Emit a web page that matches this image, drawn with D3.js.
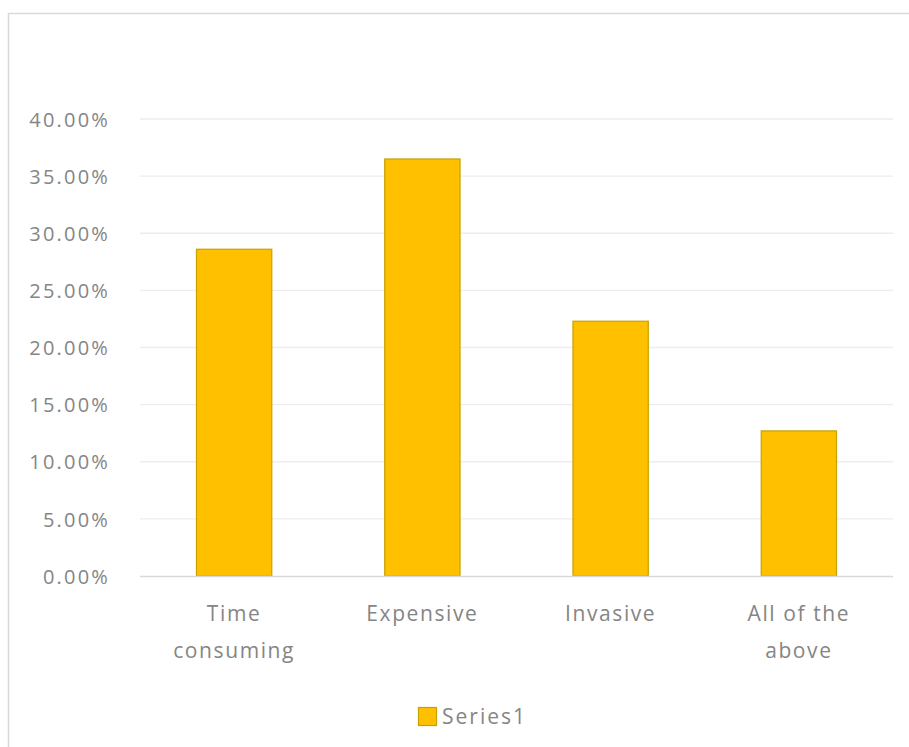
<!DOCTYPE html>
<html><head><meta charset="utf-8">
<script src="https://cdn.jsdelivr.net/npm/d3@7"></script>
<style>body{margin:0;background:#fff;} svg{display:block;}</style>
</head><body>
<svg id="chart" width="909" height="747"></svg>
<script>
const categories = [["Time","consuming"],["Expensive"],["Invasive"],["All of the","above"]];
const values = [0.286, 0.365, 0.223, 0.127];
const yTicks = [0,0.05,0.10,0.15,0.20,0.25,0.30,0.35,0.40];
const seriesName = "Series1";

const svg = d3.select("#chart");
const font = "'Open Sans', sans-serif";
// border
svg.append("rect").attr("x",8.5).attr("y",13.5).attr("width",920).attr("height",760)
  .attr("fill","#fff").attr("stroke","#d9d9d9").attr("stroke-width",1.5);

const x = d3.scaleBand().domain(d3.range(categories.length)).range([140,893]).paddingInner(0.6).paddingOuter(0.3);
const y = d3.scaleLinear().domain([0,0.40]).range([576,119]);

// gridlines
svg.append("g").selectAll("line").data(yTicks.slice(1)).join("line")
  .attr("x1",140).attr("x2",893).attr("y1",d=>y(d)).attr("y2",d=>y(d))
  .attr("stroke","#ededed").attr("stroke-width",1.3);

// y labels
const yAxis = d3.axisLeft(y).tickValues(yTicks).tickFormat(d=>(d*100).toFixed(2)+"%").tickSize(0).tickPadding(0);
const gy = svg.append("g").attr("transform","translate(110,0)").call(yAxis);
gy.select(".domain").remove();
gy.selectAll("text").attr("font-family",font).attr("font-size",20).attr("letter-spacing","2.2px")
  .attr("fill","#858585").attr("dy","0.36em");

// bars
svg.append("g").selectAll("rect").data(values).join("rect")
  .attr("x",(d,i)=>x(i)).attr("width",x.bandwidth())
  .attr("y",d=>y(d)).attr("height",d=>y(0)-y(d))
  .attr("fill","#FFC000").attr("stroke","#C9A000").attr("stroke-width",1.2);

// x axis line
svg.append("line").attr("x1",140).attr("x2",893).attr("y1",576.5).attr("y2",576.5).attr("stroke","#d9d9d9").attr("stroke-width",1.3);

// x labels
const gx = svg.append("g");
categories.forEach((lines,i)=>{
  const cx = x(i)+x.bandwidth()/2;
  const t = gx.append("text").attr("x",cx).attr("y",621)
    .attr("text-anchor","middle").attr("font-family",font).attr("font-size",21).attr("letter-spacing","1.6px").attr("fill","#858585");
  lines.forEach((l,j)=>t.append("tspan").attr("x",cx).attr("dy",j===0?0:37).text(l));
});

// legend
svg.append("rect").attr("x",418.5).attr("y",707.5).attr("width",18).attr("height",18)
  .attr("fill","#FFC000").attr("stroke","#C9A000").attr("stroke-width",1.2);
svg.append("text").attr("x",442).attr("y",724).attr("font-family",font).attr("font-size",21).attr("letter-spacing","2px").attr("fill","#858585").text(seriesName);
</script>
</body></html>
